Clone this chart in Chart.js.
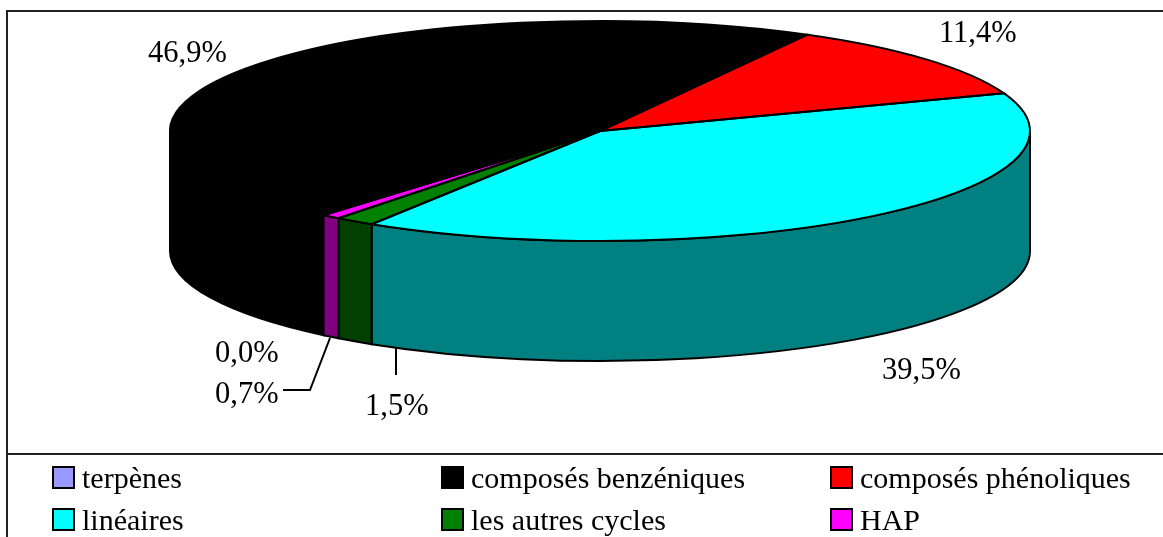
<!DOCTYPE html>
<html lang="fr">
<head>
<meta charset="utf-8">
<title>Composés</title>
<script src="https://cdn.jsdelivr.net/npm/chart.js@4"></script>
<style>
  html, body { margin: 0; padding: 0; background: #fff; overflow: hidden; }
  canvas { display: block; }
</style>
</head>
<body>
<canvas id="pie" width="1163" height="537"></canvas>
<script>
const categories = ["terpènes", "composés benzéniques", "composés phénoliques", "linéaires", "les autres cycles", "HAP"];
const values = [0.0, 46.9, 11.4, 39.5, 1.5, 0.7];
const topColors = ["#9999ff", "#000000", "#ff0000", "#00ffff", "#008000", "#ff00ff"];
const wallColors = ["#4c4c80", "#000000", "#800000", "#008080", "#004000", "#800080"];

// the pie is laid out as a circle by Chart.js and stretched into an ellipse here
const STRETCH = 430 / 110;
const DEPTH = 120;
const LABEL_FONT = '30.5px "Liberation Serif"';
const LEGEND_FONT = '30px "Liberation Serif"';

const fmt = (v) => v.toFixed(1).replace(".", ",") + "%";

function slicesOf(chart) {
  return chart.getDatasetMeta(0).data.map((arc) => arc.getProps(["x", "y", "startAngle", "endAngle", "outerRadius"]));
}

function drawFrame(ctx) {
  ctx.fillStyle = "#fff";
  ctx.fillRect(0, 0, 1163, 537);
  ctx.strokeStyle = "#222";
  ctx.lineWidth = 2;
  ctx.beginPath();
  ctx.moveTo(7, 537);
  ctx.lineTo(7, 11);
  ctx.lineTo(1163, 11);
  ctx.moveTo(7, 454);
  ctx.lineTo(1163, 454);
  ctx.stroke();
}

function drawWalls(ctx, slices) {
  slices.forEach((s, i) => {
    if (values[i] <= 0) return;
    // keep only the part of the slice on the front half of the ellipse
    let start = s.startAngle, end = s.endAngle;
    while (start < -Math.PI) { start += 2 * Math.PI; end += 2 * Math.PI; }
    const ranges = [[start, end], [start - 2 * Math.PI, end - 2 * Math.PI], [start + 2 * Math.PI, end + 2 * Math.PI]];
    ranges.forEach(([a, b]) => {
      const from = Math.max(a, 0), to = Math.min(b, Math.PI);
      if (to <= from) return;
      const rx = s.outerRadius * STRETCH, ry = s.outerRadius;
      ctx.beginPath();
      ctx.ellipse(s.x, s.y, rx, ry, 0, from, to);
      ctx.ellipse(s.x, s.y + DEPTH, rx, ry, 0, to, from, true);
      ctx.closePath();
      ctx.fillStyle = wallColors[i];
      ctx.strokeStyle = "#000";
      ctx.lineWidth = 2;
      ctx.fill();
      ctx.stroke();
    });
  });
}

function drawOutlines(ctx, slices) {
  ctx.strokeStyle = "#000";
  ctx.lineWidth = 2;
  slices.forEach((s, i) => {
    if (values[i] <= 0) return;
    ctx.beginPath();
    ctx.moveTo(s.x, s.y);
    ctx.ellipse(s.x, s.y, s.outerRadius * STRETCH, s.outerRadius, 0, s.startAngle, s.endAngle);
    ctx.closePath();
    ctx.stroke();
  });
}

function drawLeaders(ctx) {
  ctx.strokeStyle = "#000";
  ctx.lineWidth = 2;
  ctx.beginPath();
  ctx.moveTo(396, 348);
  ctx.lineTo(396, 375);
  ctx.moveTo(330, 338);
  ctx.lineTo(310, 390);
  ctx.lineTo(283, 390);
  ctx.stroke();
}

function drawLabels(ctx) {
  // left edge and baseline of each percentage, in data order
  const spots = [[215, 362], [148, 62], [939, 42], [882, 379], [365, 415], [215, 403]];
  ctx.font = LABEL_FONT;
  ctx.fillStyle = "#000";
  ctx.textAlign = "left";
  ctx.textBaseline = "alphabetic";
  values.forEach((v, i) => ctx.fillText(fmt(v), spots[i][0], spots[i][1]));
}

function drawLegend(ctx) {
  const cols = [53, 442, 831];
  const rows = [467, 509];
  ctx.font = LEGEND_FONT;
  ctx.textAlign = "left";
  ctx.textBaseline = "alphabetic";
  categories.forEach((name, i) => {
    const x = cols[i % 3], y = rows[Math.floor(i / 3)];
    ctx.fillStyle = topColors[i];
    ctx.strokeStyle = "#000";
    ctx.lineWidth = 2;
    ctx.fillRect(x, y, 21, 21);
    ctx.strokeRect(x, y, 21, 21);
    ctx.fillStyle = "#000";
    ctx.fillText(name, x + 29, y + 21);
  });
}

const pie3d = {
  id: "pie3d",
  beforeDraw(chart) {
    drawFrame(chart.ctx);
  },
  beforeDatasetsDraw(chart) {
    const ctx = chart.ctx;
    const slices = slicesOf(chart);
    drawWalls(ctx, slices);
    const { x, y } = slices[0];
    ctx.save();
    ctx.translate(x, y);
    ctx.scale(STRETCH, 1);
    ctx.translate(-x, -y);
  },
  afterDatasetsDraw(chart) {
    const ctx = chart.ctx;
    ctx.restore();
    drawOutlines(ctx, slicesOf(chart));
    drawLeaders(ctx);
    drawLabels(ctx);
    drawLegend(ctx);
  },
};

new Chart(document.getElementById("pie").getContext("2d"), {
  type: "pie",
  data: {
    labels: categories,
    datasets: [{
      data: values,
      backgroundColor: topColors,
      borderWidth: 0,
      hoverOffset: 0,
    }],
  },
  options: {
    responsive: false,
    animation: false,
    rotation: 220,
    events: [],
    layout: { padding: { left: 490, right: 453, top: 21, bottom: 296 } },
    plugins: { legend: { display: false }, tooltip: { enabled: false } },
  },
  plugins: [pie3d],
});
</script>
</body>
</html>
